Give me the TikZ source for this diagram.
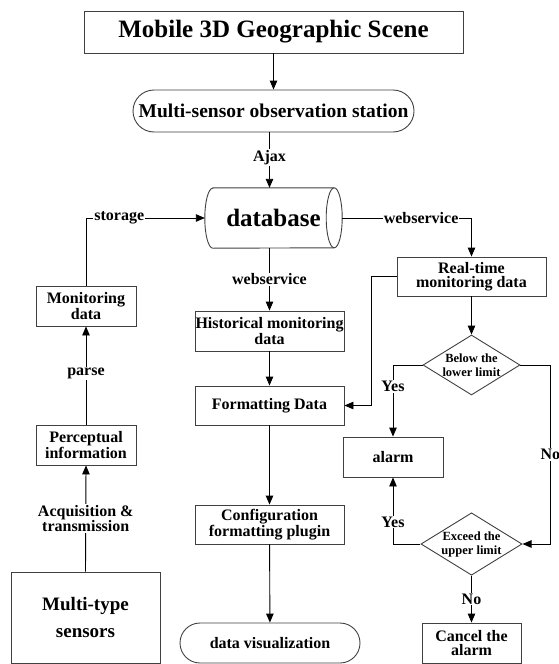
\documentclass[tikz,border=0pt]{standalone}
\usepackage{fontspec}
\setmainfont{Liberation Serif}
\usetikzlibrary{shapes.geometric,arrows.meta}
\begin{document}
\begin{tikzpicture}[x=1pt,y=-1pt,
  border/.style={draw=black!75, line width=0.9pt},
  box/.style={border, rectangle, inner sep=0pt, align=center,
    font=\fontsize{16}{14}\selectfont\bfseries},
  pill/.style={box, rounded corners=20pt},
  decision/.style={border, diamond, aspect=1.62, inner sep=0pt, align=center,
    font=\fontsize{12.5}{14}\selectfont\bfseries},
  lab/.style={fill=white, inner sep=1pt, align=center,
    font=\fontsize{16}{14}\selectfont\bfseries},
  flow/.style={line width=0.9pt, draw=black},
  arr/.style={flow, -{Triangle[length=9pt,width=7.5pt]}}
]
\useasboundingbox (0,0) rectangle (558,664);

% top of the chain
\node[box, minimum width=379pt, minimum height=42pt, font=\fontsize{25}{28}\selectfont\bfseries]
  (scene) at (273.5,32) {Mobile 3D Geographic Scene};
\node[pill, rounded corners=21pt, minimum width=281pt, minimum height=42pt,
  font=\fontsize{19.5}{22}\selectfont\bfseries]
  (station) at (273.5,111) {Multi-sensor observation station};

% database cylinder (horizontal)
\node[inner sep=0pt, minimum width=137pt, minimum height=60pt,
  font=\fontsize{25}{28}\selectfont\bfseries] (db) at (273.5,218) {database};
\draw[border] ([xshift=8pt]db.north west) -- ([xshift=-8pt]db.north east)
  arc[start angle=90,end angle=-90,x radius=8pt,y radius=30pt]
  -- ([xshift=8pt]db.south west)
  arc[start angle=270,end angle=90,x radius=8pt,y radius=30pt] -- cycle;
\draw[border] ([xshift=-8pt]db.north east)
  arc[start angle=90,end angle=270,x radius=8pt,y radius=30pt];

% centre column
\node[box, minimum width=149pt, minimum height=40pt] (hist) at (269.5,331)
  {Historical monitoring\\data};
\node[box, minimum width=149pt, minimum height=39pt] (fmt) at (269.5,405.5)
  {Formatting Data};
\node[box, minimum width=149pt, minimum height=39pt] (conf) at (269.5,524.5)
  {Configuration\\formatting plugin};
\node[pill, minimum width=180pt, minimum height=40pt] (vis) at (270,643)
  {data visualization};

% left column
\node[box, minimum width=100pt, minimum height=40pt] (mon) at (86,306)
  {Monitoring\\data};
\node[box, minimum width=100pt, minimum height=40pt] (perc) at (86,445)
  {Perceptual\\information};
\node[box, minimum width=149pt, minimum height=91pt,
  font=\fontsize{19}{27}\selectfont\bfseries] (sens) at (85.5,617.5)
  {Multi-type\\sensors};

% right column
\node[box, minimum width=149pt, minimum height=39pt] (rt) at (471.5,276.5)
  {Real-time\\monitoring data};
\node[decision, minimum width=97pt, minimum height=60pt] (low) at (471.5,365)
  {Below the\\lower limit};
\node[box, minimum width=100pt, minimum height=40pt] (alarm) at (393,457)
  {alarm};
\node[decision, minimum width=97pt, minimum height=60pt] (up) at (471.5,544)
  {Exceed the\\upper limit};
\node[box, minimum width=99pt, minimum height=40pt] (cancel) at (471.5,643)
  {Cancel the\\alarm};

% connectors
\draw[arr] (scene.south) -- (station.north);
\draw[arr] (station.south -| hist.north) -- node[lab, pos=0.45]{Ajax} (db.north -| hist.north);
\draw[arr] (db.south -| hist.north) -- node[lab]{webservice} (hist.north);
\draw[arr] (hist) -- (fmt);
\draw[arr] (fmt) -- (conf);
\draw[arr] (conf) -- (vis);

\draw[arr] (sens.north) -- node[lab]{Acquisition \&\\transmission} (perc.south);
\draw[arr] (perc.north) -- node[lab, pos=0.52]{parse} (mon.south);
\draw[arr] (mon.north) |- node[lab, pos=0.64]{storage} (db.west);

\draw[arr] (db.east) -| node[lab, pos=0.305]{webservice} (rt.north);
\draw[arr] (rt.west) -- ++(-25,0) |- (fmt.east);
\draw[arr] (rt.south) -- (low.north);
\draw[arr] (low.west) -| node[lab, pos=0.65]{Yes} (alarm.north);
\draw[arr] (low.east) -- ++(30,0) |- node[lab, pos=0.25]{No} (up.east);
\draw[arr] (up.west) -| node[lab, pos=0.665]{Yes} (alarm.south);
\draw[arr] (up.south) -- node[lab]{No} (cancel.north);
\end{tikzpicture}
\end{document}
